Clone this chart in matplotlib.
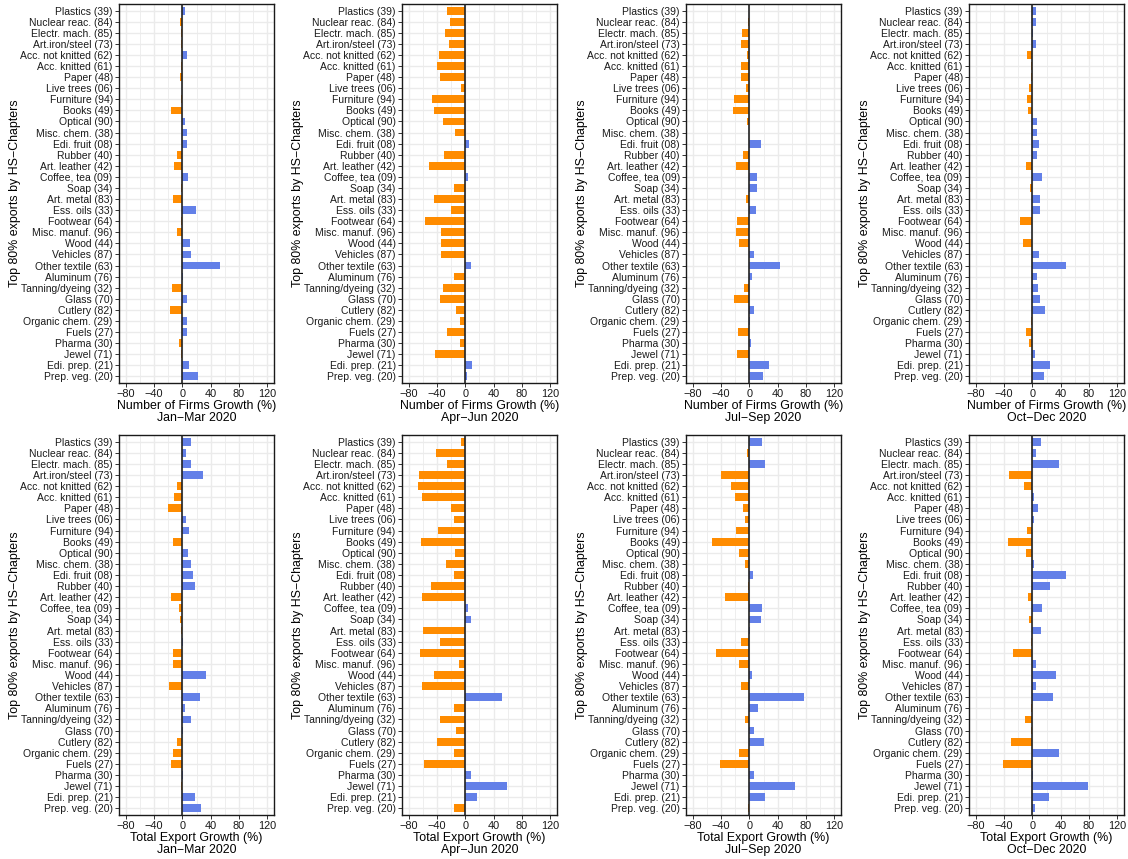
import matplotlib
matplotlib.use("Agg")
import matplotlib.pyplot as plt
import numpy as np

plt.rcParams["font.family"] = ["Liberation Sans", "DejaVu Sans"]

categories = [
    "Plastics (39)", "Nuclear reac. (84)", "Electr. mach. (85)", "Art.iron/steel (73)",
    "Acc. not knitted (62)", "Acc. knitted (61)", "Paper (48)", "Live trees (06)",
    "Furniture (94)", "Books (49)", "Optical (90)", "Misc. chem. (38)",
    "Edi. fruit (08)", "Rubber (40)", "Art. leather (42)", "Coffee, tea (09)",
    "Soap (34)", "Art. metal (83)", "Ess. oils (33)", "Footwear (64)",
    "Misc. manuf. (96)", "Wood (44)", "Vehicles (87)", "Other textile (63)",
    "Aluminum (76)", "Tanning/dyeing (32)", "Glass (70)", "Cutlery (82)",
    "Organic chem. (29)", "Fuels (27)", "Pharma (30)", "Jewel (71)",
    "Edi. prep. (21)", "Prep. veg. (20)",
]

quarters = ["Jan−Mar 2020", "Apr−Jun 2020", "Jul−Sep 2020", "Oct−Dec 2020"]

# number of firms growth (%)
firms_q1 = [3, -4, -2.5, -2.5, 7, -1.5, -4, -0.5, -1.5, -16.5, 3, 7, 6, -8, -12, 8.5, -2.5,
            -14, 19, -2.5, -8, 11, 12.5, 54, 1, -15, 7, -18, 6, 7, -5, -1.5, 10, 22.5]
firms_q2 = [-26.5, -21.5, -29.5, -23.5, -38, -40.5, -36.5, -6, -48, -45, -32, -15, 5, -31,
            -51, 3.5, -16.5, -44, -21, -57, -35, -34, -35, 8, -16.5, -32, -36.5, -13.5, -8,
            -26.5, -8, -42.5, 9.5, 2]
firms_q3 = [-0.5, -2, -10.5, -12, -3.5, -12, -12, -5, -22, -23.5, -3.5, -0.5, 16, -9, -19,
            10.5, 10.5, -5, 9, -17.5, -19, -15, 6, 43, 3, -7.5, -22, 6, 1, -16, 2, -17.5,
            27.5, 19]
firms_q4 = [5.5, 5.5, 0.5, 5.5, -8, -2.5, -1.5, -5, -8, -6.5, 7, 7, 10, 7, -9.5, 14, -4,
            11, 11, -18, -1, -14, 10, 48, 7, 8.5, 11, 18.5, -1.5, -9.5, -5, 4, 24.5, 17]

# total export growth (%)
export_q1 = [12.5, 5, 12.5, 29.5, -7, -11.5, -20, 5, 9.5, -13, 8, 12.5, 15, 18, -15.5, -5.5,
             -4, -1.5, 0.5, -14, -13, 34, -18.5, 25, 4, 12.5, 0.5, -7, -14, -15.5, 0.3,
             -1.5, 18, 27]
export_q2 = [-6, -42, -26, -66, -67.5, -62, -20.5, -16, -39, -63, -15, -27.5, -16, -49, -62,
             3.5, 8, -60.5, -36, -65, -9, -45, -62, 52, -16, -36, -13.5, -40.5, -16, -59, 8,
             59, 16.5, -16]
export_q3 = [17.5, -3, 22, -40.5, -26, -20.5, -9, -6, -19, -53, -15, -6, 5, -2, -35, 17.5,
             16, 1.5, -12, -47.5, -15, 3.5, -12, 77.5, 12, -6, 6.5, 20.5, -15, -42, 6.5, 65,
             22, -2]
export_q4 = [12.5, 5.5, 38, -33.5, -12, 2.5, 8.5, 2.5, -8, -35, -9.5, 2.5, 48, 25.5, -6.5,
             14, -5, 12.5, -1.5, -28, 5.5, 34, 5.5, 29.5, -2.5, -11, -2.5, -30.5, 38, -42,
             0.3, 79, 24, 3]

firms_rows = [firms_q1, firms_q2, firms_q3, firms_q4]
export_rows = [export_q1, export_q2, export_q3, export_q4]

pos_color = "#6380E8"
neg_color = "#FF8C00"

fig = plt.figure(figsize=(11.28, 8.59), dpi=100)

lefts = [119, 402, 686, 969]
W, H = 1128, 859
ax_w = 155


def draw_panel(ax, vals, xtitle, quarter):
    y = np.arange(len(categories))
    vals = np.array(vals)
    colors = [pos_color if v >= 0 else neg_color for v in vals]
    ax.barh(y, vals, height=0.7, color=colors, zorder=2)
    ax.axvline(0, color="#222222", lw=1.2, zorder=3)
    ax.set_xlim(-90, 130)
    ax.set_ylim(len(categories) - 0.4, -0.6)
    ax.set_yticks(y)
    ax.set_yticklabels(categories, fontsize=7.5, color="#1a1a1a")
    ax.set_xticks([-80, -40, 0, 40, 80, 120])
    ax.set_xticks([-60, -20, 20, 60, 100], minor=True)
    ax.tick_params(axis="x", labelsize=7.9, labelcolor="#1a1a1a", length=3, width=0.7,
                   pad=1.5, color="#333333")
    ax.tick_params(axis="x", which="minor", length=0)
    ax.tick_params(axis="y", length=3, width=0.7, pad=1.5, color="#333333")
    ax.grid(True, which="major", color="#EBEBEB", lw=1.0, zorder=0)
    ax.grid(True, which="minor", axis="x", color="#EBEBEB", lw=0.6, zorder=0)
    ax.set_axisbelow(True)
    for s in ax.spines.values():
        s.set_color("#1a1a1a")
        s.set_linewidth(1.0)
    ax.set_xlabel(xtitle + "\n" + quarter, fontsize=8.9, labelpad=0.5, linespacing=1.05)
    ax.set_ylabel("Top 80% exports by HS−Chapters", fontsize=8.9)
    ax.yaxis.set_label_coords(-98 / ax_w, 0.5)


for i in range(4):
    ax = fig.add_axes([lefts[i] / W, 1 - 383 / H, ax_w / W, (383 - 4) / H])
    draw_panel(ax, firms_rows[i], "Number of Firms Growth (%)", quarters[i])
    ax = fig.add_axes([lefts[i] / W, 1 - 815 / H, ax_w / W, (815 - 435) / H])
    draw_panel(ax, export_rows[i], "Total Export Growth (%)", quarters[i])

fig.savefig("out.png", dpi=100)
